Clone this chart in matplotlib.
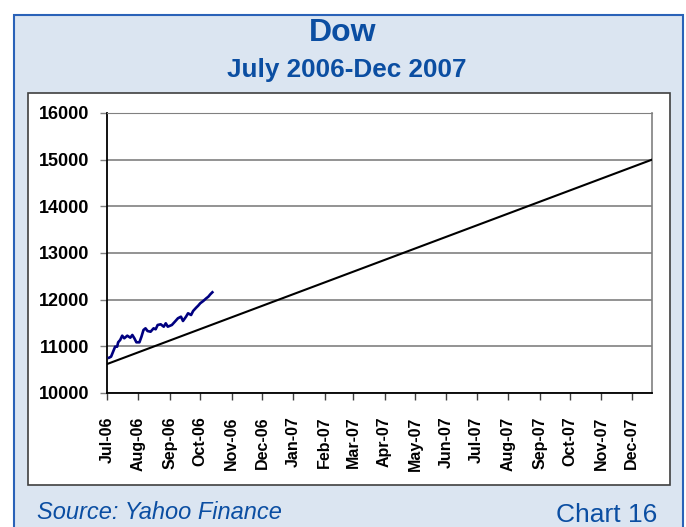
import matplotlib
matplotlib.use("Agg")
import matplotlib.pyplot as plt
import matplotlib.dates as mdates
from matplotlib.patches import Rectangle
import numpy as np

plt.rcParams['font.family'] = ['Liberation Sans', 'DejaVu Sans']

# Dow daily closes
dow_dates = ['2006-07-03', '2006-07-05', '2006-07-07', '2006-07-09', '2006-07-11',
             '2006-07-12', '2006-07-14', '2006-07-16', '2006-07-18', '2006-07-21',
             '2006-07-24', '2006-07-26', '2006-07-28', '2006-07-30', '2006-08-02',
             '2006-08-04', '2006-08-06', '2006-08-08', '2006-08-10', '2006-08-13',
             '2006-08-16', '2006-08-18', '2006-08-20', '2006-08-23', '2006-08-26',
             '2006-08-28', '2006-08-30', '2006-09-03', '2006-09-06', '2006-09-09',
             '2006-09-12', '2006-09-14', '2006-09-17', '2006-09-19', '2006-09-22',
             '2006-09-24', '2006-09-27', '2006-09-29', '2006-10-01', '2006-10-04',
             '2006-10-07', '2006-10-09', '2006-10-11', '2006-10-13']
dow_values = [10756, 10778, 10885, 10992, 10992,
              11086, 11136, 11228, 11172, 11228,
              11185, 11243, 11172, 11086, 11086,
              11206, 11350, 11386, 11328, 11313,
              11386, 11365, 11457, 11472, 11421,
              11493, 11421, 11457, 11528, 11601,
              11635, 11543, 11635, 11708, 11671,
              11757, 11828, 11871, 11922, 11971,
              12029, 12063, 12115, 12158]

# straight target line
trend_dates = ['2006-07-01', '2007-12-21']
trend_values = [10620, 15000]

y_ticks = [10000, 11000, 12000, 13000, 14000, 15000, 16000]

blue_text = '#0B4EA2'

fig = plt.figure(figsize=(6.86, 5.27), dpi=100)

# outer light blue box and white panel (behind the axes)
fig.patches.append(Rectangle((0.0204, -0.02), 0.9752, 0.9915, transform=fig.transFigure,
                             facecolor='#DBE5F1', edgecolor='#2A62B8', linewidth=1.5, zorder=-2))
fig.patches.append(Rectangle((0.0408, 0.0797), 0.9359, 0.7438, transform=fig.transFigure,
                             facecolor='white', edgecolor='#404040', linewidth=1.2, zorder=-1))

ax = fig.add_axes([0.156, 0.2543, 0.7944, 0.5313])
ax.set_facecolor('white')

d = np.array(dow_dates, dtype='datetime64[D]').astype('O')
t = np.array(trend_dates, dtype='datetime64[D]').astype('O')
ax.plot(t, trend_values, color='black', linewidth=1.5, zorder=3)
ax.plot(d, dow_values, color='#000080', linewidth=1.9, zorder=4)

ax.set_ylim(10000, 16000)
ax.set_yticks(y_ticks)
ax.set_xlim(t[0], t[1])
ax.xaxis.set_major_locator(mdates.MonthLocator())
ax.xaxis.set_major_formatter(mdates.DateFormatter('%b-%y'))

ax.grid(axis='y', color='#808080', linewidth=1.2)
ax.set_axisbelow(True)

for lab in ax.get_xticklabels():
    lab.set_rotation(90)
    lab.set_fontweight('bold')
    lab.set_fontsize(11.5)
for lab in ax.get_yticklabels():
    lab.set_fontweight('bold')
    lab.set_fontsize(13)

ax.tick_params(axis='x', length=5, width=1, pad=12, color='#404040')
ax.tick_params(axis='y', length=5, width=1, pad=7.5, color='#808080')

ax.spines['left'].set_color('black')
ax.spines['left'].set_linewidth(1.3)
ax.spines['bottom'].set_color('black')
ax.spines['bottom'].set_linewidth(1.3)
ax.spines['top'].set_color('#808080')
ax.spines['right'].set_color('#808080')
ax.spines['right'].set_linewidth(1.2)

fig.text(0.5, 0.938, 'Dow', ha='center', va='center', fontsize=23,
         fontweight='bold', color=blue_text)
fig.text(0.505, 0.868, 'July 2006-Dec 2007', ha='center', va='center', fontsize=18.8,
         fontweight='bold', color=blue_text)
fig.text(0.054, 0.028, 'Source: Yahoo Finance', ha='left', va='center', fontsize=17,
         style='italic', color=blue_text)
fig.text(0.958, 0.022, 'Chart 16', ha='right', va='center', fontsize=19,
         color=blue_text)

fig.savefig('out.png', dpi=100)
